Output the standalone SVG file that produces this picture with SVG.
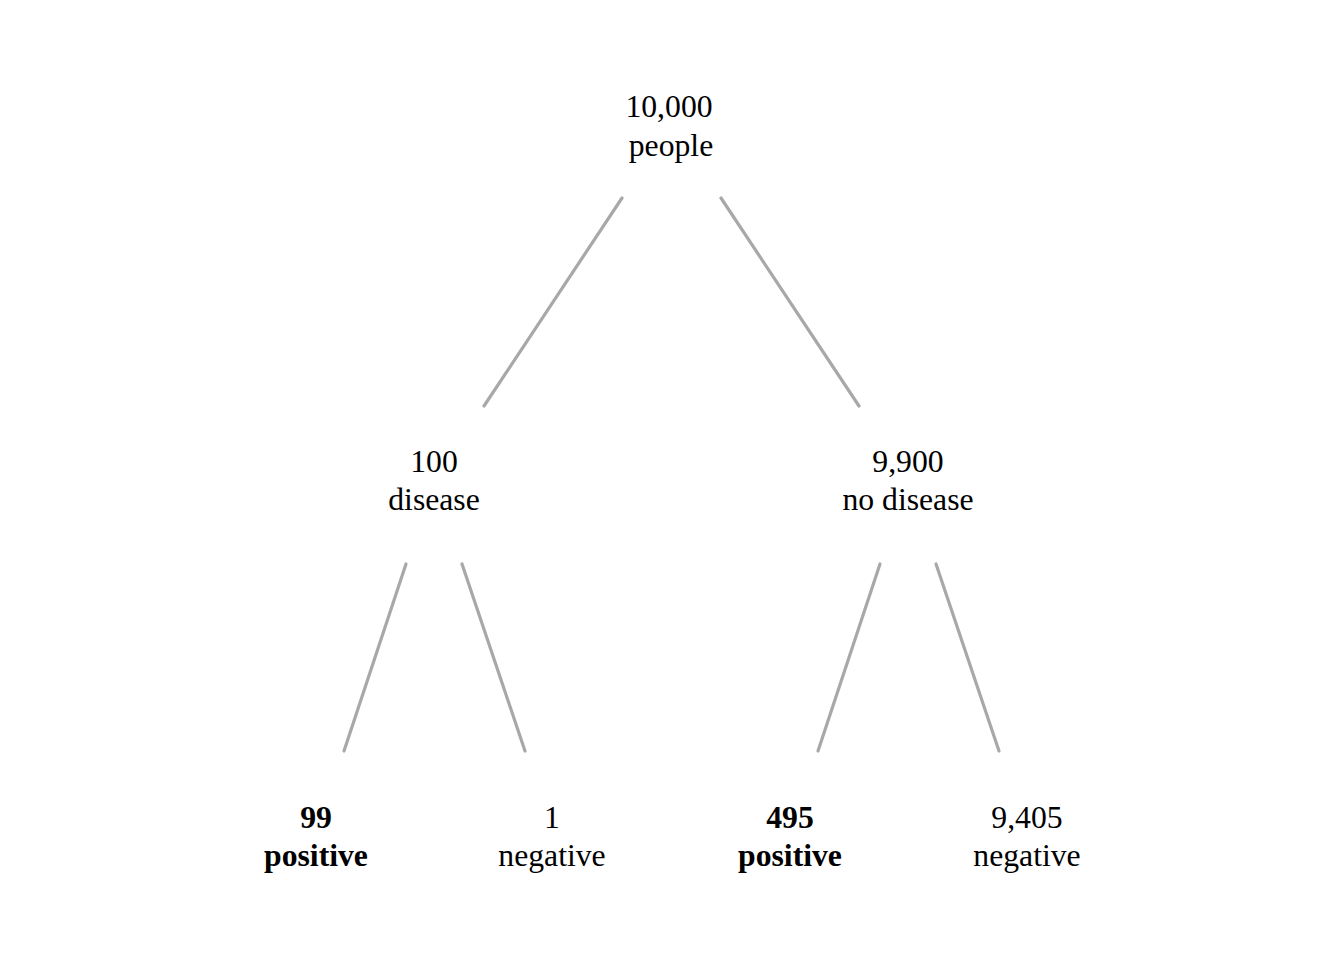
<svg xmlns="http://www.w3.org/2000/svg" width="1344" height="960" viewBox="0 0 1344 960">
<style>
text{font-family:"Liberation Serif","Times New Roman",serif;font-size:31.7px;fill:#000;text-anchor:middle}
.b{font-weight:bold}
#edges line{stroke:#a8a8a8;stroke-width:3.2;stroke-linecap:round}
</style>
<rect width="1344" height="960" fill="#fff"/>
<g id="edges">
<line x1="622" y1="198" x2="484" y2="406"/>
<line x1="721" y1="198" x2="859" y2="406"/>
<line x1="406" y1="564" x2="344" y2="751"/>
<line x1="462" y1="564" x2="525" y2="751"/>
<line x1="880" y1="564" x2="818" y2="751"/>
<line x1="936" y1="564" x2="999" y2="751"/>
</g>
<g id="root"><text x="669" y="117">10,000</text><text x="671" y="156">people</text></g>
<g id="disease"><text x="434" y="472">100</text><text x="434" y="510">disease</text></g>
<g id="nodisease"><text x="908" y="472">9,900</text><text x="908" y="510">no disease</text></g>
<g id="pos1"><text class="b" x="316" y="828">99</text><text class="b" x="316" y="866">positive</text></g>
<g id="neg1"><text x="552" y="828">1</text><text x="552" y="866">negative</text></g>
<g id="pos2"><text class="b" x="790" y="828">495</text><text class="b" x="790" y="866">positive</text></g>
<g id="neg2"><text x="1027" y="828">9,405</text><text x="1027" y="866">negative</text></g>
</svg>
